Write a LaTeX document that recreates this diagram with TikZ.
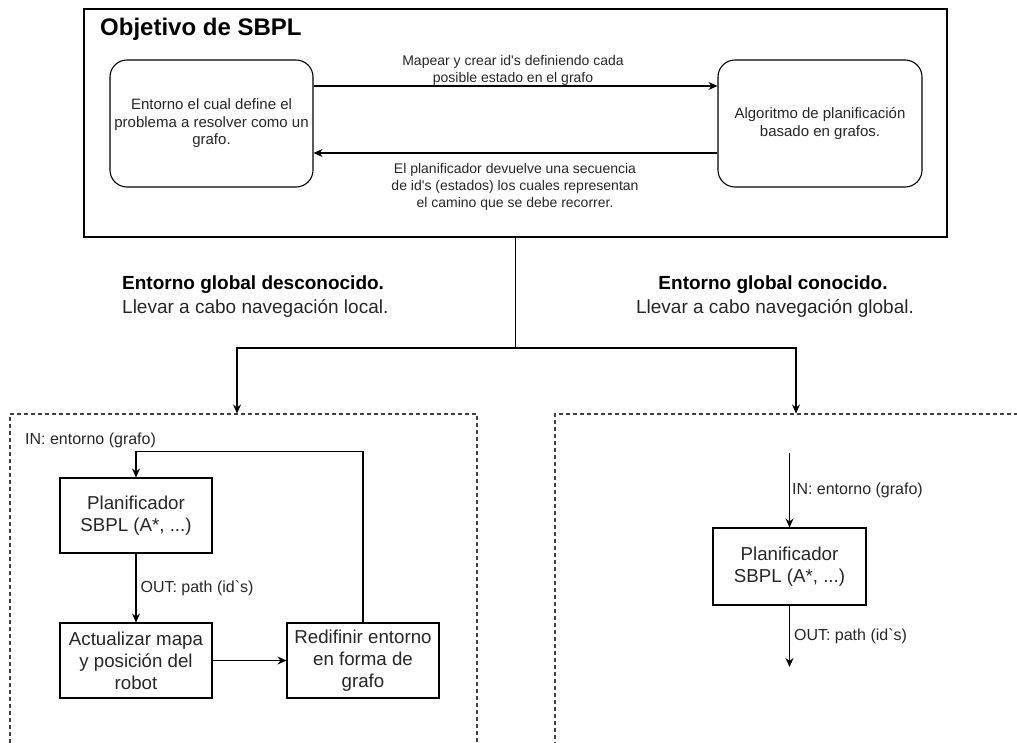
\documentclass[tikz,border=0pt]{standalone}
\usepackage{fontspec}
\setmainfont{Liberation Sans}
\newfontfamily\drawfont{Liberation Sans}
\usetikzlibrary{arrows.meta}

\begin{document}
\begin{tikzpicture}[x = 1pt, y = -1pt, font = \drawfont]
	\tikzstyle{arr} = [-{Stealth[length = 9pt, width = 8pt, inset = 3pt]}, line width = 1.1pt]
	\tikzstyle{roundBox} = [draw, line width = 1.1pt, rounded corners = 17pt, minimum width = 203pt, minimum height = 127pt, inner sep = 2pt, align = center, text = black!85, font = \drawfont\fontsize{15}{17.5}\selectfont]
	\tikzstyle{planBox} = [draw, line width = 1.1pt, minimum width = 152pt, minimum height = 75pt, inner sep = 2pt, align = center, text = black!85, font = \drawfont\fontsize{18.7}{22}\selectfont]
	\tikzstyle{dashBox} = [draw = black!75, line width = 1.1pt, dash pattern = on 4pt off 3pt, inner sep = 0pt]
	\tikzstyle{arrowLabel} = [align = center, inner sep = 0pt, text = black!85, font = \drawfont\fontsize{14}{17}\selectfont]
	\tikzstyle{ioLabel} = [inner sep = 0pt, text = black!85, font = \drawfont\fontsize{16}{19}\selectfont]
	\tikzstyle{headLabel} = [inner sep = 0pt, font = \drawfont\bfseries\fontsize{19}{22}\selectfont]
	\tikzstyle{textLabel} = [inner sep = 0pt, text = black!85, font = \drawfont\fontsize{19}{22}\selectfont]
	\useasboundingbox (0, 0) rectangle (1017, 742);
	\clip (0, 0) rectangle (1017, 742);
	% top block
	\node[draw, line width = 1.1pt, minimum width = 863pt, minimum height = 228pt, inner sep = 0pt] (sbpl) at (515.5, 123) {};
	\node[anchor = base west, inner sep = 0pt, font = \drawfont\bfseries\fontsize{24}{28}\selectfont] (title) at (100, 35) {Objetivo de SBPL};
	\node[roundBox] (env) at (211.5, 123.5) {Entorno el cual define el\\problema a resolver como un\\grafo.};
	\node[roundBox, minimum width = 204pt] (alg) at (820, 123.5) {Algoritmo de planificación\\basado en grafos.};
	\draw[arr] ([yshift = 37.5pt]env.east) -- ([yshift = 37.5pt]alg.west);
	\draw[arr] ([yshift = -29.5pt]alg.west) -- ([yshift = -29.5pt]env.east);
	\node[arrowLabel] (mapLbl) at (513, 70) {Mapear y crear id's definiendo cada\\posible estado en el grafo};
	\node[arrowLabel] (pathLbl) at (515, 187) {El planificador devuelve una secuencia\\de id's (estados) los cuales representan\\el camino que se debe recorrer.};
	% branches
	\coordinate (split) at (515.5, 348);
	\coordinate (splitL) at (237, 348);
	\coordinate (splitR) at (796, 348);
	\node[headLabel, anchor = west] (unkHead) at (122, 285) {Entorno global desconocido.};
	\node[textLabel, anchor = west] (unkText) at (122, 308) {Llevar a cabo navegación local.};
	\node[headLabel] (knHead) at (773, 285) {Entorno global conocido.};
	\node[textLabel] (knText) at (775, 308) {Llevar a cabo navegación global.};
	\node[dashBox, minimum width = 467pt, minimum height = 386pt] (localBox) at (243.5, 607) {};
	\node[dashBox, minimum width = 525pt, minimum height = 386pt] (globalBox) at (817.5, 607) {};
	\draw[line width = 1.1pt] (sbpl.south) -- (split);
	\draw[arr] (split) -- (splitL) -- (splitL |- localBox.north);
	\draw[arr] (split) -- (splitR) -- (splitR |- globalBox.north);
	% local navigation
	\node[ioLabel, anchor = west] (localIn) at (25, 440) {IN: entorno (grafo)};
	\node[planBox] (plan) at (136, 515.5) {Planificador\\SBPL (A*, ...)};
	\node[planBox] (update) at (136, 660.5) {Actualizar mapa\\y posición del\\robot};
	\node[planBox] (redef) at (363, 660.5) {Redifinir entorno\\en forma de\\grafo};
	\draw[arr] (plan) -- node[ioLabel, right = 4pt] {OUT: path (id`s)} (update);
	\draw[arr] (update) -- (redef);
	\draw[arr] (redef.north) -- ++(0, -171) -| (plan.north);
	% global navigation
	\coordinate (globalIn) at (789.5, 453);
	\node[planBox, minimum width = 153pt, minimum height = 77pt] (gplan) at (789.5, 566.5) {Planificador\\SBPL (A*, ...)};
	\coordinate (globalOut) at (789.5, 667);
	\draw[arr] (globalIn) -- node[ioLabel, right = 2pt] {IN: entorno (grafo)} (gplan.north);
	\draw[arr] (gplan.south) -- node[ioLabel, right = 4pt] {OUT: path (id`s)} (globalOut);
\end{tikzpicture}
\end{document}
